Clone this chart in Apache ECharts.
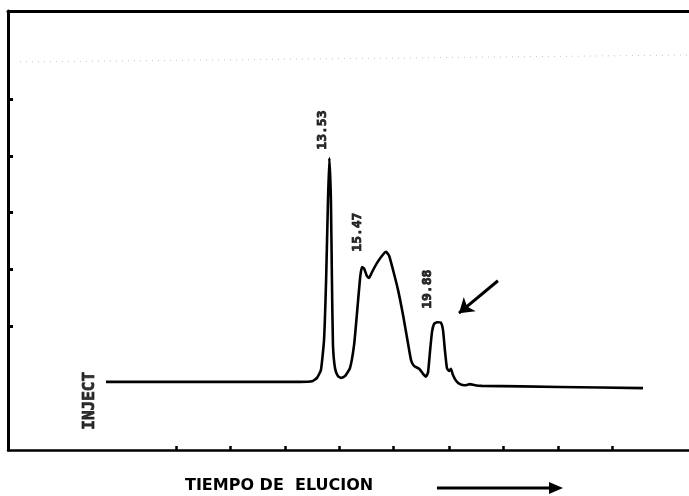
<!DOCTYPE html>
<html>
<head>
<meta charset="utf-8">
<script src="https://cdn.jsdelivr.net/npm/echarts@6/dist/echarts.min.js"></script>
<style>html,body{margin:0;padding:0;background:#fff;}#c{width:689px;height:496px;}</style>
</head>
<body>
<div id="c"></div>
<script>
// elution time (min) and detector signal (chart divisions above baseline)
const times = [0.54, 5.42, 11.84, 12.54, 12.83, 13.06, 13.24, 13.36, 13.47, 13.55, 13.64, 13.70, 13.76, 13.88, 14.05, 14.23, 14.46, 14.75, 14.99, 15.16, 15.34, 15.45, 15.57, 15.74, 15.86, 16.03, 16.32, 16.62, 16.85, 17.03, 17.26, 17.55, 17.84, 18.13, 18.31, 18.48, 18.78, 19.01, 19.18, 19.30, 19.42, 19.53, 19.65, 19.82, 20.05, 20.17, 20.28, 20.40, 20.52, 20.63, 20.75, 20.93, 21.16, 21.45, 21.74, 22.03, 22.44, 26.98, 31.82];
const signal = [0.02, 0.02, 0.02, 0.03, 0.09, 0.23, 0.76, 1.81, 3.22, 3.96, 3.22, 1.81, 0.67, 0.26, 0.12, 0.09, 0.12, 0.26, 0.67, 1.23, 1.85, 2.04, 2.02, 1.88, 1.85, 1.95, 2.11, 2.24, 2.31, 2.24, 1.99, 1.64, 1.20, 0.70, 0.40, 0.30, 0.25, 0.16, 0.11, 0.19, 0.58, 0.90, 1.04, 1.07, 1.06, 0.93, 0.58, 0.26, 0.21, 0.25, 0.14, 0.04, -0.02, -0.04, -0.02, -0.04, -0.05, -0.07, -0.09];
// labelled peaks
const peakTimes = [13.53, 15.47, 19.88];
const peakHeights = [3.96, 2.04, 1.07];
const peakLabels = ['13.53', '15.47', '19.88'];
// chart-paper tick marks
const xTicks = [4.62, 7.76, 10.97, 14.11, 17.26, 20.52, 23.66, 26.87, 30.01];
const yTicks = [1, 2, 3, 4, 5];
// arrow pointing at the 19.88 peak (tail, tip)
const arrowTail = [23.37, 1.80];
const arrowTip = [21.10, 1.23];
const injectLabel = 'INJECT';
const xTitle = 'TIEMPO DE  ELUCION';

// label offsets are given in the rotated label frame
const labelOffsets = [[28, -6], [35, -5], [33, -10]];
const monoFont = '"DejaVu Sans Mono", monospace';

const chart = echarts.init(document.getElementById('c'), null, {renderer: 'canvas'});
chart.setOption({
  animation: false,
  backgroundColor: '#ffffff',
  grid: {left: 8, right: 0, top: 11, bottom: 46, containLabel: false},
  xAxis: [{
    type: 'value', min: -5.17, max: 34.5, position: 'bottom',
    axisLine: {show: true, onZero: false, lineStyle: {color: '#000', width: 2.5}},
    axisTick: {show: true, inside: true, length: 4, customValues: xTicks, lineStyle: {color: '#000', width: 2.5}},
    axisLabel: {show: false}, splitLine: {show: false}
  }, {
    type: 'value', min: -5.17, max: 34.5, position: 'top',
    axisLine: {show: true, onZero: false, lineStyle: {color: '#000', width: 3}},
    axisTick: {show: false}, axisLabel: {show: false}, splitLine: {show: false}
  }],
  yAxis: [{
    type: 'value', min: -1.18, max: 6.55,
    axisLine: {show: true, onZero: false, lineStyle: {color: '#000', width: 3}},
    axisTick: {show: true, inside: true, length: 5, customValues: yTicks, lineStyle: {color: '#000', width: 3}},
    axisLabel: {show: false}, splitLine: {show: false}
  }],
  series: [{
    type: 'line',
    data: times.map((t, i) => [t, signal[i]]),
    smooth: 0.15,
    showSymbol: false,
    lineStyle: {color: '#000', width: 2.6},
    markLine: {
      silent: true,
      symbol: ['none', 'arrow'],
      symbolSize: 14,
      label: {show: false},
      lineStyle: {color: '#000', width: 3, type: 'solid'},
      itemStyle: {color: '#000'},
      data: [[{coord: arrowTail}, {coord: arrowTip}]]
    }
  }, {
    type: 'scatter',
    symbolSize: 1,
    itemStyle: {color: 'rgba(0,0,0,0)'},
    data: peakTimes.map((t, i) => ({
      value: [t, peakHeights[i]],
      label: {offset: labelOffsets[i]}
    })),
    label: {
      show: true,
      position: 'inside',
      rotate: 90,
      align: 'center',
      verticalAlign: 'middle',
      formatter: p => peakLabels[p.dataIndex],
      fontFamily: monoFont,
      fontWeight: 'bold',
      fontSize: 13,
      color: '#000',
      textBorderColor: '#000',
      textBorderWidth: 0.8
    }
  }, {
    type: 'scatter',
    symbolSize: 1,
    itemStyle: {color: 'rgba(0,0,0,0)'},
    data: [[times[0], signal[0]]],
    label: {
      show: true,
      position: 'inside',
      rotate: 90,
      align: 'center',
      verticalAlign: 'middle',
      offset: [-19, -16],
      formatter: () => injectLabel,
      fontFamily: monoFont,
      fontWeight: 'bold',
      fontSize: 16,
      color: '#000',
      textBorderColor: '#000',
      textBorderWidth: 0.8
    }
  }],
  graphic: [{
    type: 'line', silent: true,
    shape: {x1: 20, y1: 62, x2: 689, y2: 55},
    style: {stroke: '#c4c4c4', lineWidth: 1, lineDash: [1, 5]}
  }, {
    type: 'text', left: 185, top: 478,
    style: {text: xTitle, fontFamily: '"DejaVu Sans", sans-serif', fontWeight: 'bold', fontSize: 16, fill: '#000'}
  }, {
    type: 'line', silent: true,
    shape: {x1: 437, y1: 488, x2: 552, y2: 488},
    style: {stroke: '#000', lineWidth: 3}
  }, {
    type: 'polygon', silent: true,
    shape: {points: [[549, 482], [563, 488], [549, 494]]},
    style: {fill: '#000'}
  }]
});
</script>
</body>
</html>
